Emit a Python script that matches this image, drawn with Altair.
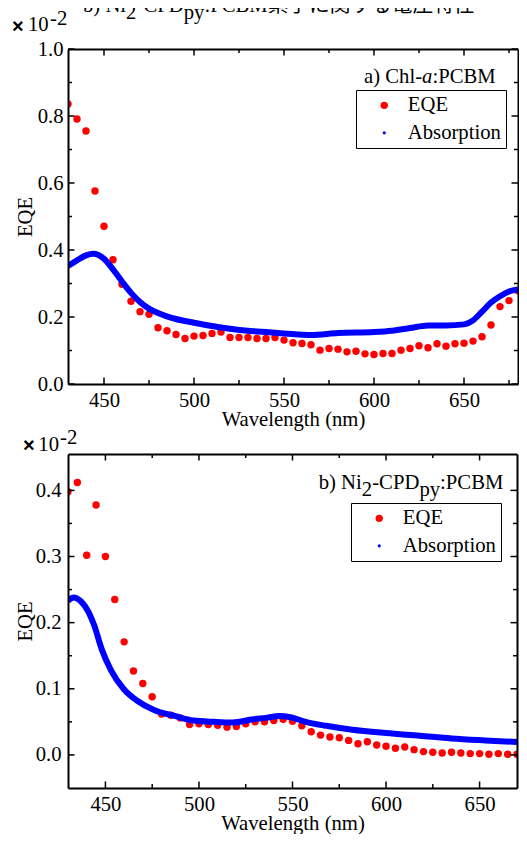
import altair as alt
import pandas as pd

# ---------------- data: panel a) Chl-a:PCBM ----------------
a_eqe_wl = [430, 435, 440, 445, 450, 455, 460, 465, 470, 475, 480, 485, 490, 495, 500,
            505, 510, 515, 520, 525, 530, 535, 540, 545, 550, 555, 560, 565, 570, 575,
            580, 585, 590, 595, 600, 605, 610, 615, 620, 625, 630, 635, 640, 645, 650,
            655, 660, 665, 670, 675, 680]
a_eqe = [0.836, 0.791, 0.755, 0.576, 0.471, 0.371, 0.298, 0.247, 0.216, 0.208, 0.168, 0.159,
         0.148, 0.136, 0.143, 0.145, 0.151, 0.155, 0.139, 0.139, 0.139, 0.136, 0.136, 0.139,
         0.131, 0.123, 0.121, 0.117, 0.101, 0.106, 0.104, 0.096, 0.098, 0.090, 0.088, 0.091,
         0.091, 0.101, 0.106, 0.114, 0.108, 0.120, 0.113, 0.120, 0.122, 0.128, 0.141, 0.176,
         0.231, 0.249, 0.278]
a_abs_wl = [430, 435, 440, 444, 450, 455, 460, 465, 470, 475, 480, 490, 500, 510, 520, 530,
            535, 550, 565, 580, 600, 610, 620, 630, 640, 650, 655, 660, 665, 670, 675, 680]
a_abs = [0.352, 0.369, 0.384, 0.389, 0.374, 0.342, 0.306, 0.272, 0.245, 0.225, 0.212, 0.194,
         0.183, 0.173, 0.165, 0.159, 0.157, 0.151, 0.146, 0.152, 0.155, 0.159, 0.167, 0.175,
         0.175, 0.178, 0.190, 0.216, 0.243, 0.262, 0.276, 0.282]

# ---------------- data: panel b) Ni2-CPDpy:PCBM ----------------
b_eqe_wl = [430, 435, 440, 445, 450, 455, 460, 465, 470, 475, 480, 485, 490, 495, 500,
            505, 510, 515, 520, 525, 530, 535, 540, 545, 550, 555, 560, 565, 570, 575,
            580, 585, 590, 595, 600, 605, 610, 615, 620, 625, 630, 635, 640, 645, 650,
            655, 660, 665, 670]
b_eqe = [0.398, 0.412, 0.302, 0.378, 0.300, 0.235, 0.171, 0.127, 0.108, 0.088, 0.062, 0.060,
         0.056, 0.046, 0.047, 0.046, 0.045, 0.042, 0.043, 0.047, 0.050, 0.050, 0.052, 0.054,
         0.051, 0.044, 0.035, 0.030, 0.027, 0.026, 0.022, 0.017, 0.020, 0.015, 0.013, 0.010,
         0.012, 0.008, 0.005, 0.004, 0.003, 0.004, 0.003, 0.002, 0.002, 0.001, 0.002, 0.001,
         0.001]
b_abs_wl = [430, 433, 437, 441, 444, 448, 453, 460, 467, 476, 487, 497, 508, 518, 529, 536,
            543, 549, 557, 568, 582, 600, 618, 635, 653, 670]
b_abs = [0.233, 0.238, 0.232, 0.216, 0.196, 0.160, 0.128, 0.099, 0.082, 0.068, 0.059, 0.052,
         0.050, 0.049, 0.054, 0.056, 0.059, 0.057, 0.050, 0.044, 0.038, 0.033, 0.029, 0.025,
         0.022, 0.0195]

series_names = ["EQE", "Absorption"]
series_colors = ["#ff0000", "#0000ff"]
series_sizes = [55, 10]

a_x_major = [450, 500, 550, 600, 650]
a_x_minor = [475, 525, 575, 625, 675]
a_y_major = [0.0, 0.2, 0.4, 0.6, 0.8, 1.0]
a_y_minor = [0.1, 0.3, 0.5, 0.7, 0.9]
b_x_major = [450, 500, 550, 600, 650]
b_x_minor = [475, 525, 575, 625]
b_y_major = [0.0, 0.1, 0.2, 0.3, 0.4]
b_y_minor = [0.05, 0.15, 0.25, 0.35]

x_title = "Wavelength (nm)"
y_title = "EQE"
a_label = ["a) Chl-", "a", ":PCBM"]
b_label = ["b) Ni", "2", "-CPD", "py", ":PCBM"]
caption = ["b) Ni", "2", "-CPD", "py", ":PCBM素子に関する電圧特性"]
mult = ["×", "10", "-2"]

FONT = "Liberation Serif"
FS = 20.7
MAJOR, MINOR = 6.5, 4


def txt(s, x, y, dx=0, dy=0, font=FONT, size=FS, style="normal", weight="normal"):
    return alt.Chart(pd.DataFrame({"t": [s]})).mark_text(
        align="left", baseline="alphabetic", font=font, fontSize=size,
        fontStyle=style, fontWeight=weight, color="black", dx=dx, dy=dy
    ).encode(x=alt.value(x), y=alt.value(y), text="t:N")


def tick_rules(xs, ys, xvals, yvals, length, w, h):
    xdf = pd.DataFrame({"wl": xvals})
    ydf = pd.DataFrame({"v": yvals})
    out = []
    for y0, y1 in ((h, h - length), (0, length)):
        out.append(alt.Chart(xdf).mark_rule(color="black", strokeWidth=1.5).encode(
            x=alt.X("wl:Q", scale=xs, axis=None), y=alt.value(y0), y2=alt.value(y1)))
    for x0, x1 in ((0, length), (w, w - length)):
        out.append(alt.Chart(ydf).mark_rule(color="black", strokeWidth=1.5).encode(
            y=alt.Y("v:Q", scale=ys, axis=None), x=alt.value(x0), x2=alt.value(x1)))
    return out


def panel(eqe_wl, eqe, abs_wl, absv, xdom, ydom, x_major, x_minor, y_major, y_minor,
          w, h, lx, ly, ypad, title_y, texts):
    eqe_df = pd.DataFrame({"wl": eqe_wl, "v": eqe, "series": ["EQE"] * len(eqe_wl)})
    abs_df = pd.DataFrame({"wl": abs_wl, "v": absv})
    xs = alt.Scale(domain=xdom, nice=False, zero=False)
    ys = alt.Scale(domain=ydom, nice=False, zero=False)

    leg = alt.Legend(orient="none", legendX=lx, legendY=ly, title=None,
                     strokeColor="black", fillColor="white", padding=5,
                     symbolType="circle", symbolOffset=12.9, labelOffset=13.2,
                     labelFont=FONT, labelFontSize=FS, labelColor="black",
                     rowPadding=5.5, symbolStrokeWidth=0, cornerRadius=0)

    pts = alt.Chart(eqe_df).mark_circle(opacity=1, clip=True).encode(
        x=alt.X("wl:Q", scale=xs, axis=alt.Axis(
            orient="bottom", values=x_major, format="d", ticks=False,
            domainColor="black", domainWidth=2, labelPadding=6, labelFlush=False,
            labelFont=FONT, labelFontSize=FS, labelColor="black",
            title=x_title, titleFont=FONT, titleFontSize=FS, titleFontWeight="normal",
            titleColor="black", titleY=title_y, titleBaseline="alphabetic", zindex=1)),
        y=alt.Y("v:Q", scale=ys, axis=alt.Axis(
            orient="left", values=y_major, format=".1f", ticks=False,
            domainColor="black", domainWidth=2, labelPadding=ypad, labelFlush=False,
            labelFont=FONT, labelFontSize=FS, labelColor="black",
            title=y_title, titleFont=FONT, titleFontSize=FS, titleFontWeight="normal",
            titleColor="black", titleX=-37, titleBaseline="alphabetic", zindex=1)),
        color=alt.Color("series:N", scale=alt.Scale(domain=series_names, range=series_colors), legend=leg),
        size=alt.Size("series:N", scale=alt.Scale(domain=series_names, range=series_sizes), legend=leg),
    )

    line = alt.Chart(abs_df).mark_line(color="#0000ff", strokeWidth=6, clip=True,
                                       interpolate="monotone").encode(
        x=alt.X("wl:Q", scale=xs, axis=alt.Axis(
            orient="top", labels=False, ticks=False, domainColor="black", domainWidth=2,
            title=None, zindex=1)),
        y=alt.Y("v:Q", scale=ys, axis=alt.Axis(
            orient="right", labels=False, ticks=False, domainColor="black", domainWidth=2,
            title=None, zindex=1)),
    )

    ticks = (tick_rules(xs, ys, x_major, y_major, MAJOR, w, h)
             + tick_rules(xs, ys, x_minor, y_minor, MINOR, w, h))

    return alt.layer(pts, line, *ticks, *texts).resolve_axis(
        x="independent", y="independent").properties(width=w, height=h)


# annotation texts, panel a (pixel offsets from the plot's top-left corner)
a_texts = [
    txt(a_label[0], 296, 34),
    txt(a_label[1], 296, 34, dx=58.1, style="italic"),
    txt(a_label[2], 296, 34, dx=68.4),
    txt(mult[0], -56, -16.5, font="Liberation Sans", size=20, weight="bold"),
    txt(mult[1], -40, -17.7),
    txt(mult[2], -18, -24),
    txt(caption[0], 15, -37),
    txt(caption[1], 15, -37, dx=43.1, dy=7),
    txt(caption[2], 15, -37, dx=53.5),
    txt(caption[3], 15, -37, dx=100.7, dy=7),
    alt.Chart(pd.DataFrame({"t": [caption[4]]})).mark_text(
        align="left", baseline="alphabetic", font='"Liberation Serif", "Noto Sans CJK JP"',
        fontSize=FS, color="black", dx=121.4).encode(x=alt.value(15), y=alt.value(-37), text="t:N"),
]
# annotation texts, panel b
b_texts = [
    txt(b_label[0], 250.7, 35.3),
    txt(b_label[1], 250.7, 35.3, dx=43.1, dy=7),
    txt(b_label[2], 250.7, 35.3, dx=53.5),
    txt(b_label[3], 250.7, 35.3, dx=100.7, dy=7),
    txt(b_label[4], 250.7, 35.3, dx=121.4),
    txt(mult[0], -45, -2.5, font="Liberation Sans", size=20, weight="bold"),
    txt(mult[1], -29.7, -3),
    txt(mult[2], -8, -10.5),
]

# panel widths/heights deliberately differ by 1px so the concat keeps no shared size
top = panel(a_eqe_wl, a_eqe, a_abs_wl, a_abs, [430, 680], [0.0, 1.0], a_x_major, a_x_minor,
            a_y_major, a_y_minor, 450, 335, 288, 41, 5, 41.7, a_texts)
bottom = panel(b_eqe_wl, b_eqe, b_abs_wl, b_abs, [430, 670], [-0.05, 0.455], b_x_major, b_x_minor,
               b_y_major, b_y_minor, 449, 334, 283, 49, 7, 41, b_texts)

chart = alt.vconcat(top, bottom, spacing=70, bounds="flush").resolve_scale(
    color="independent", size="independent"
).properties(
    autosize=alt.AutoSizeParams(type="none"),
    padding={"left": 60, "top": 41, "right": 451, "bottom": 785},
).configure_view(stroke="transparent").configure_axis(
    grid=False, labelFont=FONT, titleFont=FONT
)

chart.save("out.html", embed_options={"renderer": "svg", "actions": False})
